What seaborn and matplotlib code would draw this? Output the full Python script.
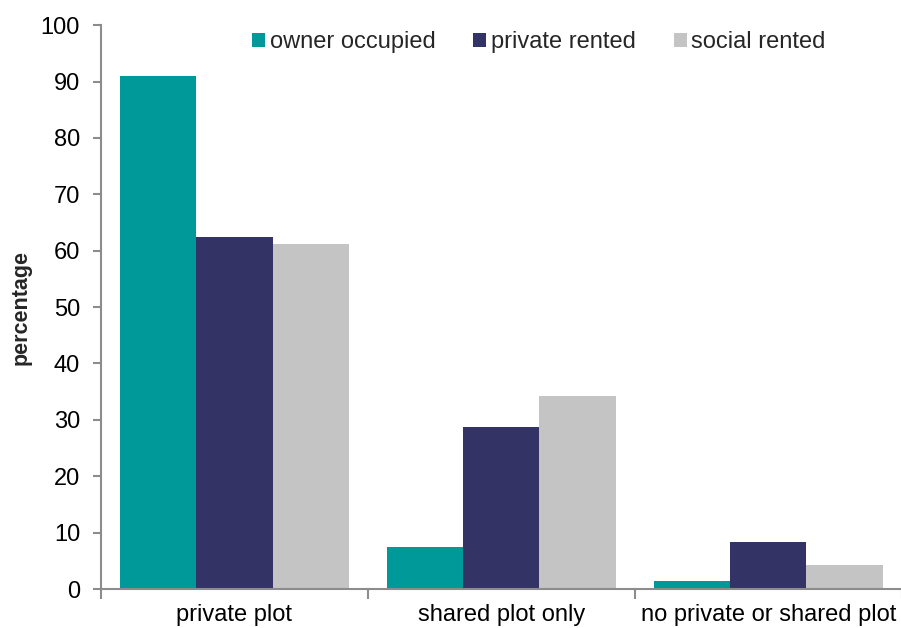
import matplotlib
matplotlib.use("Agg")
import matplotlib.pyplot as plt
import seaborn as sns
import pandas as pd
from matplotlib.ticker import FixedLocator

# Garden access by tenure (percentage of households)
categories = ["private plot", "shared plot only", "no private or shared plot"]
tenures = ["owner occupied", "private rented", "social rented"]
owner_occupied = [90.9, 7.4, 1.5]
private_rented = [62.5, 28.8, 8.3]
social_rented = [61.2, 34.3, 4.3]
colors = ["#009999", "#333366", "#c4c4c4"]
y_ticks = list(range(0, 101, 10))

rows = []
for tenure, values in zip(tenures, [owner_occupied, private_rented, social_rented]):
    for cat, v in zip(categories, values):
        rows.append({"category": cat, "tenure": tenure, "value": v})
df = pd.DataFrame(rows)

sns.set_theme(style="white")
plt.rcParams["font.family"] = ["Liberation Sans", "DejaVu Sans"]

FS = 17

fig = plt.figure(figsize=(9.01, 6.28), dpi=100)
ax = fig.add_axes([0.112, 0.062, 0.889, 0.898])

sns.barplot(data=df, x="category", y="value", hue="tenure", order=categories,
            hue_order=tenures, palette=colors, width=0.856, gap=0,
            saturation=1, linewidth=0, ax=ax, legend=True)

ax.set_xlim(-0.5, 2.5)
ax.set_ylim(0, 100)
ax.set_yticks(y_ticks)
ax.set_xlabel("")
ax.set_ylabel("percentage", fontsize=15.5, fontweight="bold")
ax.yaxis.set_label_coords(-0.087, 0.5)

spine_color = "#8c8c8c"
for side in ["top", "right"]:
    ax.spines[side].set_visible(False)
for side in ["left", "bottom"]:
    ax.spines[side].set_color(spine_color)
    ax.spines[side].set_linewidth(1.5)

ax.tick_params(axis="y", direction="out", length=6, width=1.5, color=spine_color,
               labelsize=FS, labelcolor="black", pad=9, left=True)
ax.tick_params(axis="x", which="major", length=0, labelsize=FS,
               labelcolor="black", pad=11)
ax.xaxis.set_minor_locator(FixedLocator([-0.5, 0.5, 1.5, 2.5]))
ax.tick_params(axis="x", which="minor", direction="out", length=7, width=1.5,
               color=spine_color, bottom=True)

handles, labels = ax.get_legend_handles_labels()
ax.legend(handles, labels, loc="center", bbox_to_anchor=(0.598, 0.933),
          bbox_transform=fig.transFigure, ncol=3, frameon=False,
          fontsize=FS, handlelength=0.55, handleheight=0.55,
          handletextpad=0.2, columnspacing=1.6)

fig.savefig("out.png", dpi=100)
